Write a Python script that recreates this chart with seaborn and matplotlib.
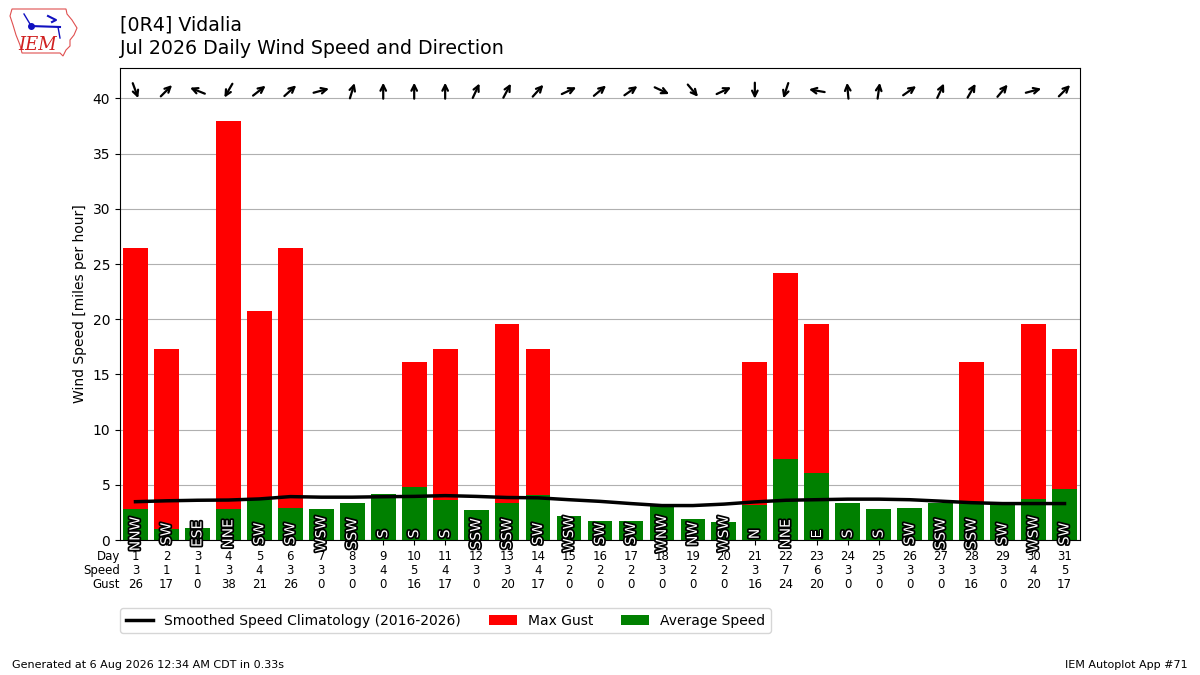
import numpy as np
import pandas as pd
import matplotlib
matplotlib.use("Agg")
import matplotlib.pyplot as plt
import matplotlib.patheffects as PathEffects
from matplotlib.transforms import offset_copy
from matplotlib.lines import Line2D
from matplotlib.patches import Polygon
import seaborn as sns

# ---------------- data ----------------
days = list(range(1, 32))
avg_speed = [2.8, 1.0, 1.1, 2.8, 3.6, 2.9, 2.8, 3.35, 4.2, 4.8, 3.6, 2.7, 3.35, 4.1, 2.2,
             1.7, 1.7, 3.1, 1.9, 1.6, 3.15, 7.35, 6.1, 3.35, 2.8, 2.9, 3.35, 3.3, 3.3, 3.7, 4.6]
max_gust = [26.47, 17.26, 0, 37.98, 20.71, 26.47, 0, 0, 0, 16.11, 17.26, 0, 19.56, 17.26, 0,
            0, 0, 0, 0, 0, 16.11, 24.17, 19.56, 0, 0, 0, 0, 16.11, 0, 19.56, 17.26]
climo = [3.47, 3.55, 3.6, 3.62, 3.72, 3.93, 3.88, 3.88, 3.92, 3.95, 4.02, 3.95, 3.85, 3.82, 3.65,
         3.5, 3.3, 3.12, 3.12, 3.25, 3.45, 3.6, 3.65, 3.7, 3.7, 3.65, 3.52, 3.38, 3.3, 3.3, 3.3]
drct_txt = ["NNW", "SW", "ESE", "NNE", "SW", "SW", "WSW", "SSW", "S", "S", "S", "SSW", "SSW", "SW", "WSW",
            "SW", "SW", "WNW", "NW", "WSW", "N", "NNE", "E", "S", "S", "SW", "SSW", "SSW", "SW", "WSW", "SW"]
drct_deg = [340, 225, 112, 30, 232, 228, 255, 197, 180, 180, 180, 205, 208, 222, 245,
            230, 235, 295, 320, 245, 0, 18, 100, 175, 188, 235, 205, 210, 220, 255, 225]

title1 = "[0R4] Vidalia"
title2 = "Jul 2026 Daily Wind Speed and Direction"
ylabel = "Wind Speed [miles per hour]"
footer_left = "Generated at 6 Aug 2026 12:34 AM CDT in 0.33s"
footer_right = "IEM Autoplot App #71"

df = pd.DataFrame({"day": days, "gust": max_gust, "avg": avg_speed, "climo": climo})

# ---------------- figure ----------------
fig = plt.figure(figsize=(12, 6.75), dpi=100)
ax = fig.add_axes([0.1, 0.2, 0.8, 0.7])

sns.barplot(data=df, x="day", y="gust", native_scale=True, color="red", saturation=1,
            width=0.8, errorbar=None, linewidth=0, ax=ax, label="Max Gust", zorder=2)
sns.barplot(data=df, x="day", y="avg", native_scale=True, color="green", saturation=1,
            width=0.8, errorbar=None, linewidth=0, ax=ax, label="Average Speed", zorder=2)
sns.lineplot(data=df, x="day", y="climo", color="k", linewidth=2.5, ax=ax,
             label="Smoothed Speed Climatology (2016-2026)", zorder=4)

ax.set_xlim(0.5, 31.5)
ax.set_ylim(0, 42.8)
ax.set_yticks(range(0, 41, 5))
ax.grid(axis="y", color="#b0b0b0", linewidth=0.8)
ax.grid(axis="x", visible=False)
ax.set_axisbelow(True)
ax.set_xlabel("")
ax.set_ylabel(ylabel, fontsize=10)

ticklabels = ["%d\n%.0f\n%.0f" % (d, s, g) for d, s, g in zip(days, avg_speed, max_gust)]
ax.set_xticks(days)
ax.set_xticklabels(ticklabels, fontsize=8.5, linespacing=1.1)
ax.annotate("Day\nSpeed\nGust", xy=(0, 0), xycoords="axes fraction", xytext=(0, -7),
            textcoords="offset points", ha="right", va="top", fontsize=8.5,
            multialignment="right", linespacing=1.1)

# direction text
for d, t in zip(days, drct_txt):
    ax.text(d, 0.55, t, rotation=90, ha="center", va="center", color="white",
            fontsize=10, zorder=6,
            path_effects=[PathEffects.withStroke(linewidth=2.5, foreground="k")])

# direction arrows
arrow_y = 40.7
L = 11.5
for d, deg in zip(days, drct_deg):
    theta = np.deg2rad(deg + 180)
    ux, uy = np.sin(theta), np.cos(theta)
    tr = offset_copy(ax.transData, fig=fig, x=ux * L / 2, y=uy * L / 2, units="points")
    ax.annotate("", xy=(d, arrow_y), xycoords=tr, xytext=(-ux * L, -uy * L),
                textcoords="offset points",
                arrowprops=dict(arrowstyle="->", lw=1.6, color="k", shrinkA=0, shrinkB=0))

# legend
h, l = ax.get_legend_handles_labels()
order = ["Smoothed Speed Climatology (2016-2026)", "Max Gust", "Average Speed"]
hd = dict(zip(l, h))
ax.legend([hd[k] for k in order], order, loc="upper left", bbox_to_anchor=(0, -0.144),
          ncol=3, borderaxespad=0, fontsize=10)

# titles
fig.text(0.1, 1 - 25 / 675, title1, fontsize=13.7, ha="left", va="center")
fig.text(0.1, 1 - 48 / 675, title2, fontsize=13.7, ha="left", va="center")
fig.text(0.01, 0.015, footer_left, fontsize=8, ha="left", va="center")
fig.text(0.99, 0.015, footer_right, fontsize=8, ha="right", va="center")

# simple IEM logo
W, H = 1200.0, 675.0
pts = [(12, 9), (66, 9), (67, 14), (72, 20), (77, 28), (74, 35), (70, 40), (70, 46),
       (66, 50), (63, 56), (60, 53), (22, 53), (20, 45), (16, 35), (13, 25), (10, 16)]
fig.patches.append(Polygon([(x / W, 1 - y / H) for x, y in pts], closed=True, fill=False,
                           edgecolor="#e05050", linewidth=0.8, transform=fig.transFigure))
fig.lines.append(Line2D([30 / W, 60 / W], [1 - 26 / H, 1 - 27 / H], color="#1010c0",
                        linewidth=1.5, transform=fig.transFigure))
fig.lines.append(Line2D([31 / W], [1 - 26 / H], marker="o", markersize=4, color="#1010c0",
                        transform=fig.transFigure))
fig.lines.append(Line2D([24 / W, 30 / W], [1 - 14 / H, 1 - 24 / H], color="#1010c0",
                        linewidth=1, transform=fig.transFigure))
fig.lines.append(Line2D([48 / W, 56 / W, 52 / W], [1 - 16 / H, 1 - 20 / H, 1 - 22 / H],
                        color="#1010c0", linewidth=1.5, transform=fig.transFigure))
fig.lines.append(Line2D([58 / W, 60 / W], [1 - 27 / H, 1 - 38 / H], color="#1010c0",
                        linewidth=1, transform=fig.transFigure))
fig.text(38 / W, 1 - 45 / H, "IEM", color="#d02020", fontsize=13, family="DejaVu Serif",
         style="italic", ha="center", va="center")

fig.savefig("out.png", dpi=100)
